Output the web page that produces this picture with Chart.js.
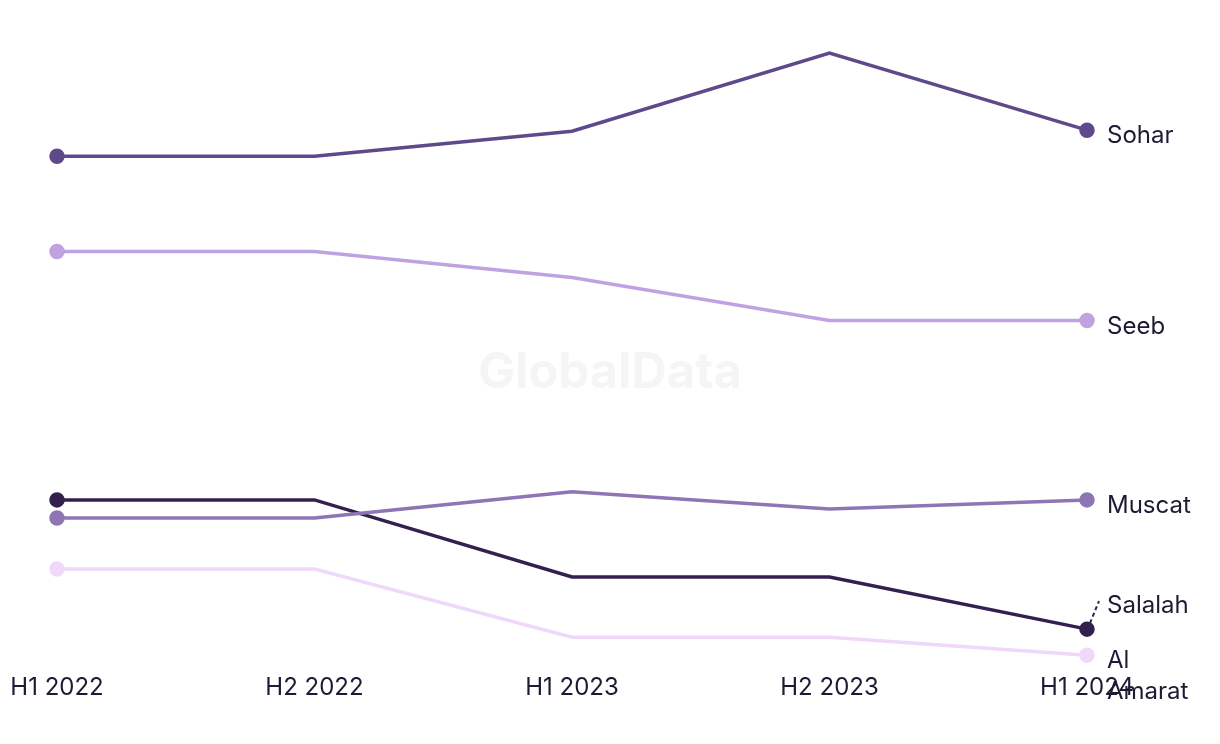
<!DOCTYPE html>
<html lang="en">
<head>
    <meta charset="UTF-8">
    <title>Oman cities line chart</title>
    <script src="https://cdn.jsdelivr.net/npm/chart.js"></script>
    <style>
        html, body { margin: 0; padding: 0; background: #fff; }
        #chartContainer { width: 1220px; height: 744px; position: relative; }
    </style>
</head>
<body>
    <div id="chartContainer">
        <canvas id="lineChart"></canvas>
    </div>

    <script>
        const periods = ['H1 2022', 'H2 2022', 'H1 2023', 'H2 2023', 'H1 2024'];

        const sohar = [52.4, 52.4, 54.9, 62.7, 55.0];
        const seeb = [42.9, 42.9, 40.3, 36.0, 36.0];
        const muscat = [16.3, 16.3, 18.9, 17.2, 18.1];
        const salalah = [18.1, 18.1, 10.4, 10.4, 5.2];
        const alAmarat = [11.2, 11.2, 4.4, 4.4, 2.6];

        const textColor = '#1c1b33';
        const fontFamily = 'Inter, "Liberation Sans", sans-serif';

        // dots only on the first and last point
        function endPoints(ctx) {
            const n = ctx.dataset.data.length;
            return (ctx.dataIndex === 0 || ctx.dataIndex === n - 1) ? 6 : 0;
        }

        function series(name, data, color, lines, labelShift) {
            return {
                label: name,
                data: data,
                borderColor: color,
                backgroundColor: color,
                borderWidth: 3.5,
                pointRadius: endPoints,
                pointHoverRadius: endPoints,
                tension: 0,
                endLabel: lines,
                labelShift: labelShift || 0
            };
        }

        // watermark behind the lines
        const watermark = {
            id: 'watermark',
            beforeDatasetsDraw(chart) {
                const ctx = chart.ctx;
                ctx.save();
                ctx.font = 'bold 49px ' + fontFamily;
                ctx.fillStyle = '#f5f5f5';
                ctx.textAlign = 'center';
                ctx.textBaseline = 'middle';
                ctx.fillText('GlobalData', 610, 373);
                ctx.restore();
            }
        };

        // city names after the last point
        const endLabels = {
            id: 'endLabels',
            afterDatasetsDraw(chart) {
                const ctx = chart.ctx;
                ctx.save();
                ctx.font = '24px ' + fontFamily;
                ctx.fillStyle = textColor;
                ctx.textBaseline = 'middle';
                chart.data.datasets.forEach((ds, i) => {
                    const meta = chart.getDatasetMeta(i);
                    const pt = meta.data[meta.data.length - 1];
                    const x = pt.x + 20;
                    const y = pt.y + 6 + ds.labelShift;
                    if (ds.labelShift) {
                        ctx.save();
                        ctx.strokeStyle = ds.borderColor;
                        ctx.lineWidth = 2;
                        ctx.setLineDash([4, 3]);
                        ctx.beginPath();
                        ctx.moveTo(pt.x + 3, pt.y - 6);
                        ctx.lineTo(pt.x + 12, y - 5);
                        ctx.stroke();
                        ctx.restore();
                    }
                    ds.endLabel.forEach((line, k) => {
                        ctx.fillText(line, x, y + k * 31);
                    });
                });
                ctx.restore();
            }
        };

        new Chart(document.getElementById('lineChart'), {
            type: 'line',
            data: {
                labels: periods,
                datasets: [
                    series('Al Amarat', alAmarat, '#f0d8fb', ['Al', 'Amarat']),
                    series('Muscat', muscat, '#8e75b4', ['Muscat']),
                    series('Seeb', seeb, '#bfa2e1', ['Seeb']),
                    series('Sohar', sohar, '#5e4a8a', ['Sohar']),
                    series('Salalah', salalah, '#34204f', ['Salalah'], -29)
                ]
            },
            options: {
                responsive: true,
                maintainAspectRatio: false,
                animation: false,
                layout: { padding: { left: 57, right: 133, top: 30, bottom: 40 } },
                plugins: {
                    legend: { display: false },
                    tooltip: { enabled: false }
                },
                scales: {
                    x: {
                        offset: false,
                        grid: { display: false },
                        border: { display: false },
                        ticks: {
                            color: textColor,
                            font: { family: fontFamily, size: 24 },
                            maxRotation: 0,
                            padding: 2
                        }
                    },
                    y: {
                        display: false,
                        min: 1.8,
                        max: 65
                    }
                }
            },
            plugins: [watermark, endLabels]
        });
    </script>
</body>
</html>
